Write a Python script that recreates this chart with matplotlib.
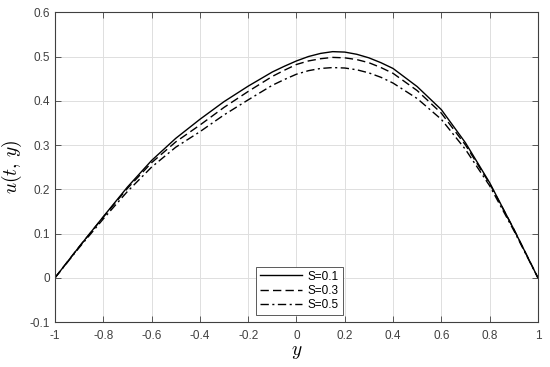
import matplotlib
matplotlib.use("Agg")
import matplotlib.pyplot as plt

y_vals = [-1.0, -0.9, -0.8, -0.7, -0.6, -0.5, -0.4, -0.3, -0.2, -0.1, -0.05, 0.0,
          0.05, 0.1, 0.15, 0.2, 0.25, 0.3, 0.35, 0.4, 0.5, 0.6, 0.7, 0.8, 0.9, 1.0]
u_s01 = [0, 0.070, 0.138, 0.205, 0.265, 0.315, 0.358, 0.398, 0.433, 0.465, 0.478, 0.490,
         0.500, 0.507, 0.511, 0.510, 0.505, 0.497, 0.486, 0.473, 0.432, 0.380, 0.305, 0.215, 0.110, 0]
u_s03 = [0, 0.070, 0.137, 0.202, 0.260, 0.307, 0.345, 0.385, 0.421, 0.455, 0.469, 0.482,
         0.490, 0.495, 0.498, 0.497, 0.493, 0.486, 0.475, 0.462, 0.423, 0.372, 0.300, 0.213, 0.110, 0]
u_s05 = [0, 0.068, 0.133, 0.195, 0.250, 0.295, 0.330, 0.368, 0.402, 0.435, 0.448, 0.460,
         0.468, 0.473, 0.475, 0.474, 0.470, 0.463, 0.453, 0.440, 0.405, 0.358, 0.290, 0.208, 0.107, 0]
labels = ["S=0.1", "S=0.3", "S=0.5"]
xticks = [-1, -0.8, -0.6, -0.4, -0.2, 0, 0.2, 0.4, 0.6, 0.8, 1]
yticks = [-0.1, 0, 0.1, 0.2, 0.3, 0.4, 0.5, 0.6]

plt.rcParams['font.family'] = ['Liberation Sans', 'DejaVu Sans']
plt.rcParams['mathtext.fontset'] = 'cm'

fig = plt.figure(figsize=(5.5, 3.67), dpi=100)
ax = fig.add_axes([0.1, 0.1226, 0.878, 0.844])

ax.plot(y_vals, u_s01, color='black', linestyle='-', linewidth=1.0, label=labels[0])
ax.plot(y_vals, u_s03, color='black', linestyle=(0, (6, 3)), linewidth=1.0, label=labels[1])
ax.plot(y_vals, u_s05, color='black', linestyle=(0, (6, 2.5, 1.5, 2.5)), linewidth=1.0, label=labels[2])

ax.set_xlim(-1, 1)
ax.set_ylim(-0.1, 0.6)
ax.set_xticks(xticks)
ax.set_yticks(yticks)
ax.set_xticklabels(['-1', '-0.8', '-0.6', '-0.4', '-0.2', '0', '0.2', '0.4', '0.6', '0.8', '1'])
ax.set_yticklabels(['-0.1', '0', '0.1', '0.2', '0.3', '0.4', '0.5', '0.6'])
ax.grid(True, color='#dedede', linewidth=0.7)
ax.set_axisbelow(True)
ax.tick_params(direction='in', top=True, right=True, length=4, width=0.6,
               colors='#404040', labelsize=8.5, labelcolor='#404040')
ax.tick_params(axis='x', pad=6)
for s in ax.spines.values():
    s.set_color('#404040')
    s.set_linewidth(0.8)

ax.set_xlabel('$y$', fontsize=14, labelpad=1)
ax.set_ylabel(r'$u(t,\,y)$', fontsize=14, labelpad=4)

leg = ax.legend(loc='lower center', bbox_to_anchor=(0.506, 0.004), fontsize=8.5,
                handlelength=3.6, handletextpad=0.5, borderpad=0.3,
                labelspacing=0.2, fancybox=False, framealpha=1, edgecolor='#404040')
leg.get_frame().set_linewidth(0.6)

fig.savefig('out.png', dpi=100)
